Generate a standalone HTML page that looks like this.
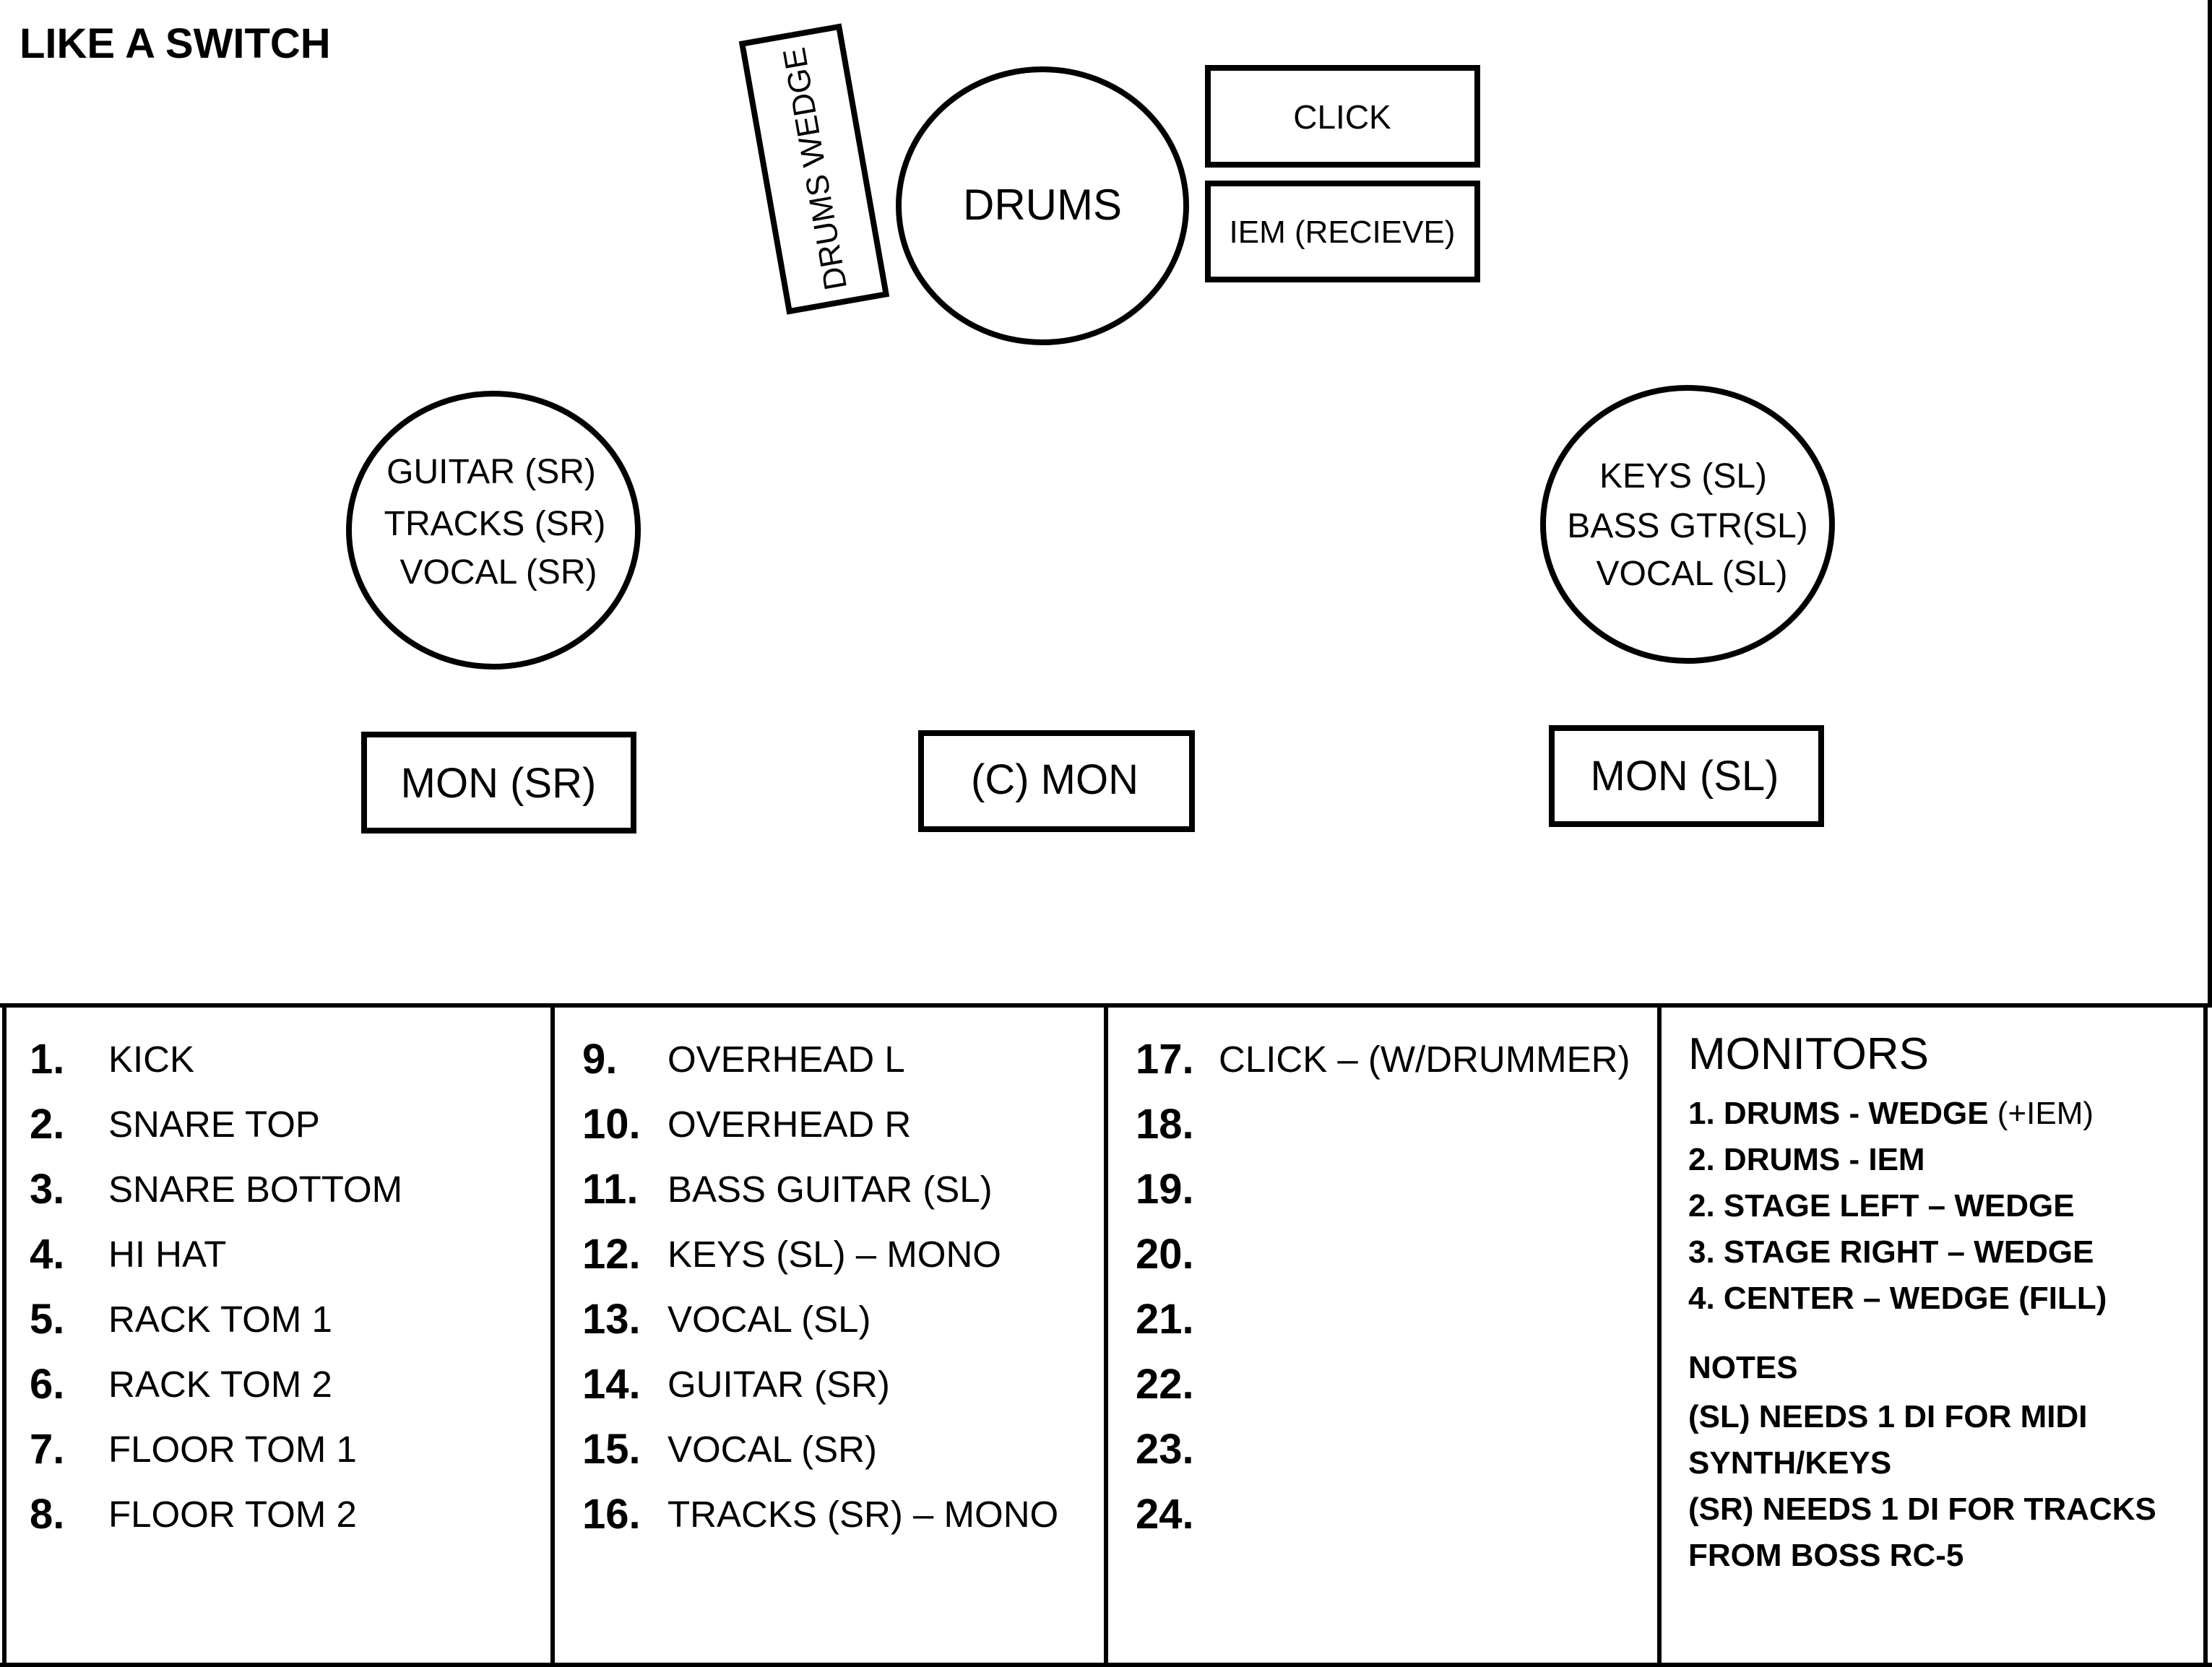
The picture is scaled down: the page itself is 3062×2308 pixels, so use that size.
<!DOCTYPE html>
<html><head><meta charset="utf-8"><style>html,body{margin:0;padding:0;background:#fff}svg{display:block}</style></head>
<body>
<svg width="3062" height="2308" viewBox="0 0 3062 2308" xmlns="http://www.w3.org/2000/svg" font-family="'Liberation Sans', 'DejaVu Sans', sans-serif" fill="#000">
<rect width="3062" height="2308" fill="#fff"/>
<text x="27" y="80" font-size="58" font-weight="bold">LIKE A SWITCH</text>
<!-- drums wedge -->
<g transform="translate(1127,234) rotate(-10)">
<rect x="-68" y="-188" width="136" height="376" fill="none" stroke="#000" stroke-width="8"/>
<text transform="rotate(-90)" x="0" y="16" font-size="44" text-anchor="middle">DRUMS WEDGE</text>
</g>
<ellipse cx="1443" cy="285" rx="199" ry="189" fill="none" stroke="#000" stroke-width="8"/>
<text x="1443" y="304" font-size="60" text-anchor="middle">DRUMS</text>
<rect x="1672" y="94" width="373" height="134" fill="none" stroke="#000" stroke-width="8"/>
<text x="1858" y="178" font-size="46" text-anchor="middle">CLICK</text>
<rect x="1672" y="254" width="373" height="133" fill="none" stroke="#000" stroke-width="8"/>
<text x="1858" y="336" font-size="44" text-anchor="middle">IEM (RECIEVE)</text>
<ellipse cx="683" cy="734" rx="200" ry="189" fill="none" stroke="#000" stroke-width="8"/>
<text font-size="48" text-anchor="middle"><tspan x="680" y="669">GUITAR (SR)</tspan><tspan x="685" y="741">TRACKS (SR)</tspan><tspan x="690" y="808">VOCAL (SR)</tspan></text>
<ellipse cx="2336" cy="726" rx="200" ry="189" fill="none" stroke="#000" stroke-width="8"/>
<text font-size="48" text-anchor="middle"><tspan x="2330" y="675">KEYS (SL)</tspan><tspan x="2336" y="744">BASS GTR(SL)</tspan><tspan x="2342" y="810">VOCAL (SL)</tspan></text>
<rect x="504" y="1017" width="373" height="133" fill="none" stroke="#000" stroke-width="8"/>
<text x="690" y="1104" font-size="58" text-anchor="middle">MON (SR)</text>
<rect x="1275" y="1015" width="375" height="133" fill="none" stroke="#000" stroke-width="8"/>
<text x="1460" y="1099" font-size="58" text-anchor="middle">(C) MON</text>
<rect x="2148" y="1008" width="373" height="133" fill="none" stroke="#000" stroke-width="8"/>
<text x="2332" y="1094" font-size="58" text-anchor="middle">MON (SL)</text>
<!-- table -->
<g stroke="#000" stroke-width="6" fill="none">
<line x1="3059" y1="0" x2="3059" y2="1392"/>
<line x1="0" y1="1392" x2="3062" y2="1392"/>
<line x1="0" y1="2305" x2="3062" y2="2305"/>
<line x1="6" y1="1392" x2="6" y2="2308"/>
<line x1="765" y1="1392" x2="765" y2="2308"/>
<line x1="1531" y1="1392" x2="1531" y2="2308"/>
<line x1="2297" y1="1392" x2="2297" y2="2308"/>
<line x1="3053" y1="1392" x2="3053" y2="2308"/>
</g>
<g font-size="58" font-weight="bold">
<text x="41" y="1486">1.</text><text x="41" y="1576">2.</text><text x="41" y="1666">3.</text><text x="41" y="1756">4.</text><text x="41" y="1846">5.</text><text x="41" y="1936">6.</text><text x="41" y="2026">7.</text><text x="41" y="2116">8.</text>
<text x="806" y="1486">9.</text><text x="806" y="1576">10.</text><text x="806" y="1666">11.</text><text x="806" y="1756">12.</text><text x="806" y="1846">13.</text><text x="806" y="1936">14.</text><text x="806" y="2026">15.</text><text x="806" y="2116">16.</text>
<text x="1572" y="1486">17.</text><text x="1572" y="1576">18.</text><text x="1572" y="1666">19.</text><text x="1572" y="1756">20.</text><text x="1572" y="1846">21.</text><text x="1572" y="1936">22.</text><text x="1572" y="2026">23.</text><text x="1572" y="2116">24.</text>
</g>
<g font-size="51">
<text x="150" y="1484">KICK</text><text x="150" y="1574">SNARE TOP</text><text x="150" y="1664">SNARE BOTTOM</text><text x="150" y="1754">HI HAT</text><text x="150" y="1844">RACK TOM 1</text><text x="150" y="1934">RACK TOM 2</text><text x="150" y="2024">FLOOR TOM 1</text><text x="150" y="2114">FLOOR TOM 2</text>
<text x="924" y="1484">OVERHEAD L</text><text x="924" y="1574">OVERHEAD R</text><text x="924" y="1664">BASS GUITAR (SL)</text><text x="924" y="1754">KEYS (SL) – MONO</text><text x="924" y="1844">VOCAL (SL)</text><text x="924" y="1934">GUITAR (SR)</text><text x="924" y="2024">VOCAL (SR)</text><text x="924" y="2114">TRACKS (SR) – MONO</text>
<text x="1687" y="1484">CLICK – (W/DRUMMER)</text>
</g>
<text x="2337" y="1480" font-size="62">MONITORS</text>
<g font-size="44" font-weight="bold">
<text x="2337" y="1556">1. DRUMS - WEDGE <tspan font-weight="normal">(+IEM)</tspan></text>
<text x="2337" y="1620">2. DRUMS - IEM</text>
<text x="2337" y="1684">2. STAGE LEFT – WEDGE</text>
<text x="2337" y="1748">3. STAGE RIGHT – WEDGE</text>
<text x="2337" y="1812">4. CENTER – WEDGE (FILL)</text>
<text x="2337" y="1908">NOTES</text>
<text x="2337" y="1976">(SL) NEEDS 1 DI FOR MIDI</text>
<text x="2337" y="2040">SYNTH/KEYS</text>
<text x="2337" y="2104">(SR) NEEDS 1 DI FOR TRACKS</text>
<text x="2337" y="2168">FROM BOSS RC-5</text>
</g>
</svg>
</body></html>
